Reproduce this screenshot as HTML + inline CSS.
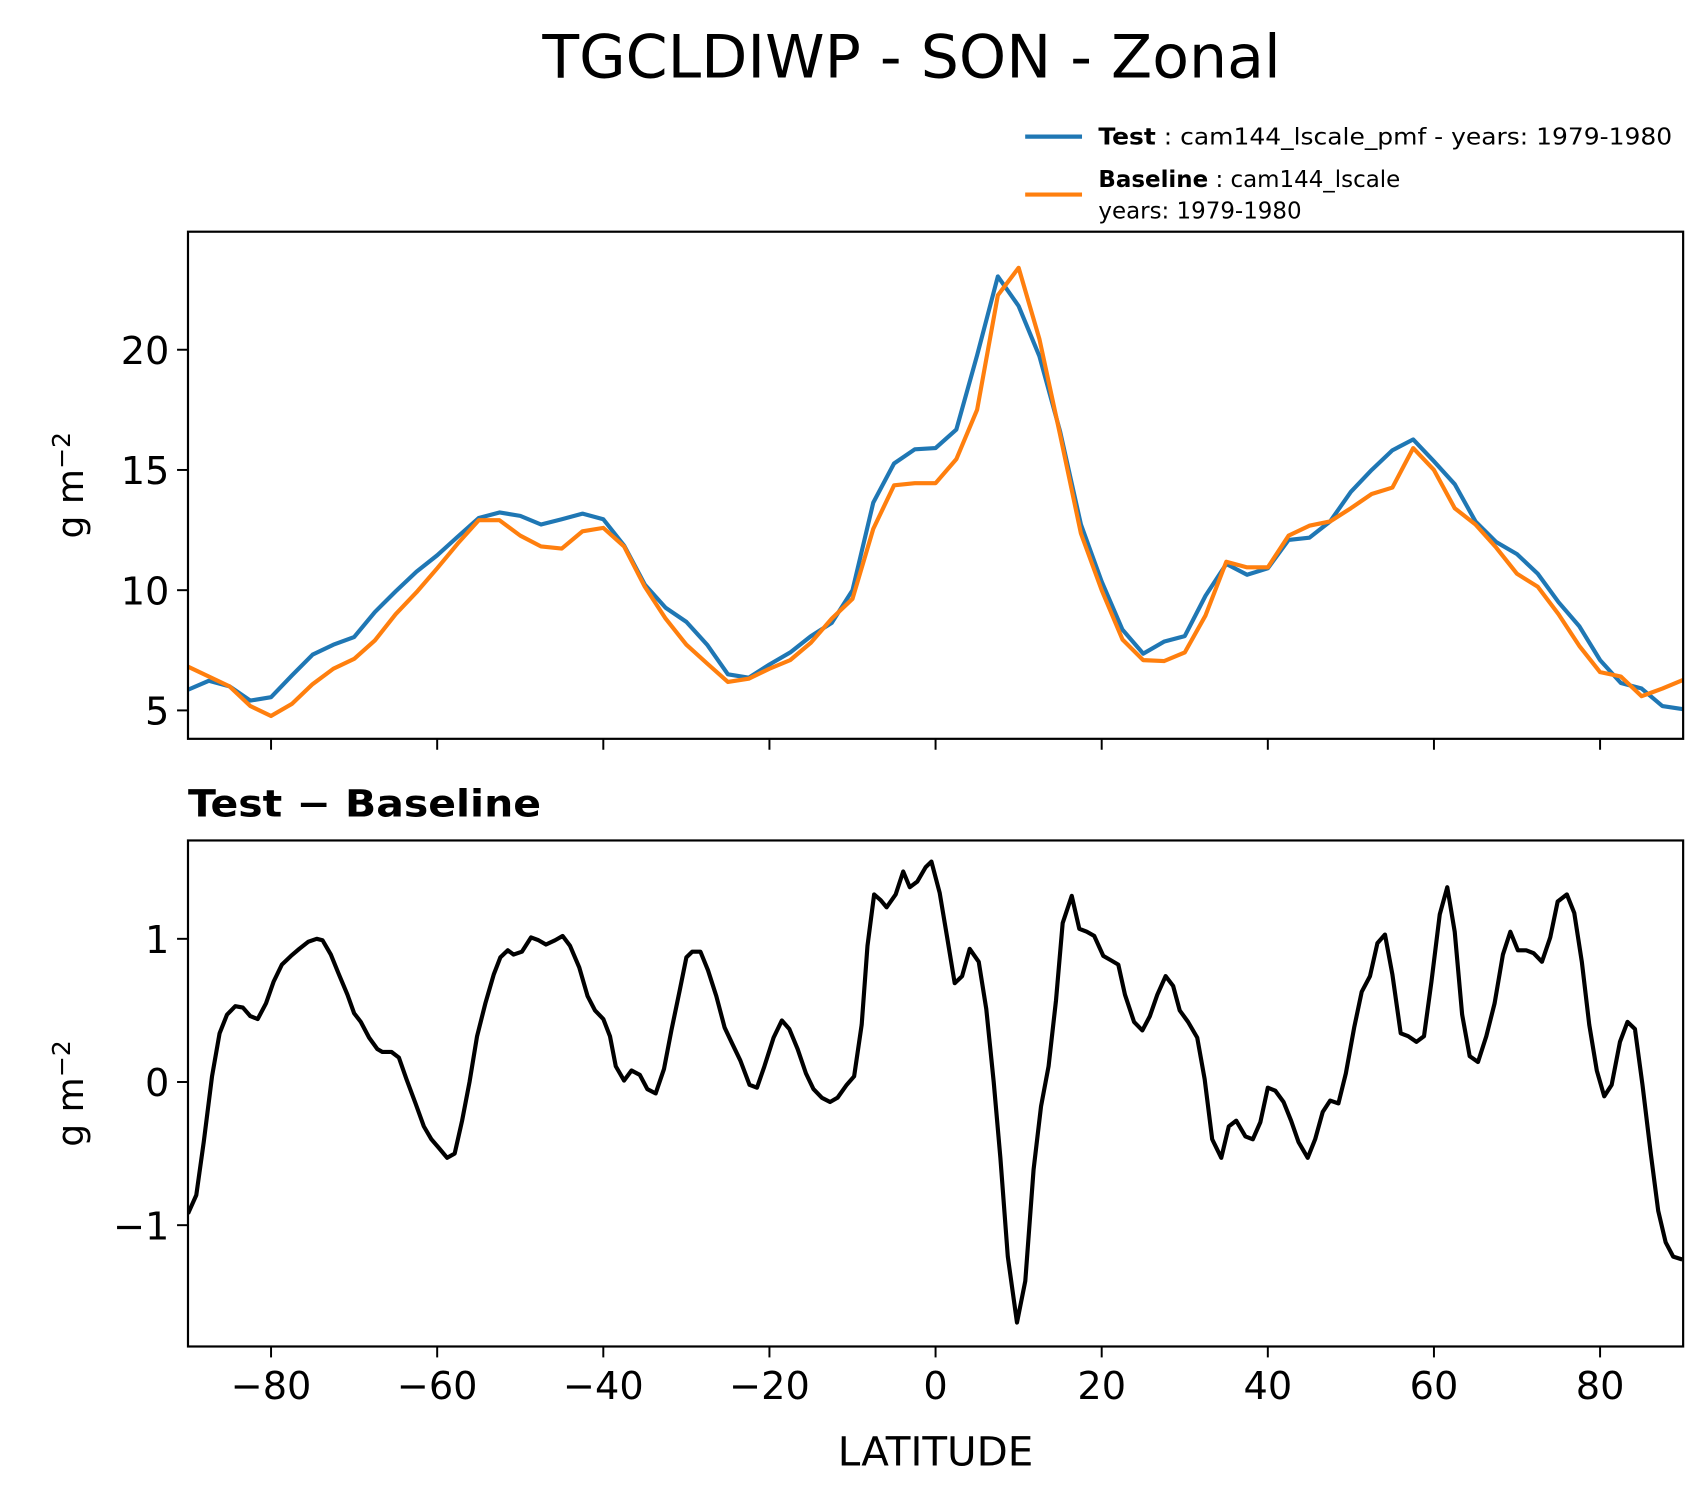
<!DOCTYPE html>
<html><head><meta charset="utf-8">
<style>
html,body{margin:0;padding:0;background:#fff;}
svg{display:block;font-family:"DejaVu Sans","Liberation Sans",sans-serif;}
</style></head>
<body>
<svg id="chart" width="1705" height="1496" viewBox="0 0 1560 1368.8" preserveAspectRatio="none" xmlns="http://www.w3.org/2000/svg">
<rect x="0" y="0" width="1560" height="1369" fill="#fff"/>
<text x="834" y="71" font-size="55" text-anchor="middle">TGCLDIWP - SON - Zonal</text>
<g>
  <line x1="938" y1="125" x2="990" y2="125" stroke="#1f77b4" stroke-width="3.8"/>
  <text x="1005" y="132" font-size="21" textLength="525" lengthAdjust="spacingAndGlyphs"><tspan font-weight="bold">Test</tspan> : cam144_lscale_pmf - years: 1979-1980</text>
  <line x1="938" y1="178" x2="990" y2="178" stroke="#ff7f0e" stroke-width="3.8"/>
  <text x="1005" y="171" font-size="21"><tspan font-weight="bold">Baseline</tspan> : cam144_lscale</text>
  <text x="1005" y="200" font-size="21">years: 1979-1980</text>
</g>
<g id="topPanel"></g>
<g id="botPanel"></g>
<text x="172" y="747" font-size="34" font-weight="bold" textLength="323" lengthAdjust="spacingAndGlyphs">Test − Baseline</text>
<text x="856" y="1341" font-size="37" text-anchor="middle">LATITUDE</text>
</svg>
<script>
const lats = [-90,-87.5,-85,-82.5,-80,-77.5,-75,-72.5,-70,-67.5,-65,-62.5,-60,-57.5,-55,-52.5,-50,-47.5,-45,-42.5,-40,-37.5,-35,-32.5,-30,-27.5,-25,-22.5,-20,-17.5,-15,-12.5,-10,-7.5,-5,-2.5,0,2.5,5,7.5,10,12.5,15,17.5,20,22.5,25,27.5,30,32.5,35,37.5,40,42.5,45,47.5,50,52.5,55,57.5,60,62.5,65,67.5,70,72.5,75,77.5,80,82.5,85,87.5,90];
const testVals = [5.86,6.23,6.0,5.41,5.55,6.45,7.32,7.73,8.05,9.09,9.95,10.77,11.45,12.23,13.0,13.23,13.09,12.73,12.95,13.18,12.95,11.86,10.23,9.27,8.68,7.73,6.5,6.36,6.91,7.41,8.09,8.64,10.0,13.64,15.27,15.86,15.91,16.68,19.77,23.05,21.82,19.73,16.59,12.73,10.36,8.36,7.36,7.86,8.09,9.77,11.09,10.64,10.91,12.09,12.18,12.86,14.09,15.0,15.82,16.27,15.36,14.41,12.86,12.0,11.5,10.68,9.5,8.5,7.09,6.14,5.91,5.18,5.05];
const baseVals = [6.82,6.41,6.0,5.18,4.77,5.27,6.09,6.73,7.14,7.91,9.0,9.91,10.91,11.95,12.91,12.91,12.27,11.82,11.73,12.45,12.59,11.82,10.14,8.82,7.73,6.95,6.18,6.32,6.73,7.09,7.82,8.82,9.64,12.55,14.36,14.45,14.45,15.45,17.5,22.27,23.41,20.45,16.45,12.36,10.0,7.95,7.09,7.05,7.41,8.95,11.18,10.95,10.95,12.27,12.68,12.86,13.41,14.0,14.27,15.91,15.0,13.41,12.73,11.77,10.68,10.14,9.0,7.68,6.59,6.41,5.59,5.91,6.27];
const diffLats = [-90,-89,-88.1,-87.1,-86.2,-85.3,-84.3,-83.4,-82.5,-81.6,-80.6,-79.7,-78.7,-77.6,-76.6,-75.5,-74.5,-73.8,-72.8,-71.9,-70.8,-70,-69.2,-68.2,-67.2,-66.6,-65.5,-64.6,-63.7,-62.6,-61.6,-60.7,-59.8,-58.8,-57.9,-57,-56.1,-55.2,-54.2,-53.2,-52.4,-51.5,-50.8,-49.8,-48.7,-47.8,-46.9,-45.8,-44.9,-44,-42.9,-41.9,-41,-40,-39.2,-38.5,-37.5,-36.6,-35.6,-34.7,-33.7,-32.7,-31.8,-30.8,-30,-29.3,-28.3,-27.4,-26.4,-25.4,-24.5,-23.5,-22.4,-21.5,-20.6,-19.5,-18.5,-17.6,-16.6,-15.6,-14.7,-13.7,-12.7,-11.8,-10.7,-9.8,-8.9,-8.2,-7.4,-6.6,-5.9,-4.8,-3.9,-3.1,-2.2,-1.2,-0.5,0.5,1.4,2.3,3.2,4.1,5.2,6.1,7,7.8,8.7,9.8,10.8,11.8,12.7,13.6,14.5,15.3,16.4,17.3,18.2,19.1,20.2,21.1,22,22.8,23.9,24.9,25.8,26.7,27.7,28.6,29.4,30.4,31.5,32.4,33.3,34.4,35.3,36.2,37.3,38.2,39.1,40,40.9,41.9,42.8,43.7,44.8,45.7,46.6,47.5,48.5,49.4,50.4,51.3,52.3,53.2,54.1,55,56,56.9,57.9,58.8,59.7,60.7,61.6,62.5,63.4,64.3,65.3,66.3,67.3,68.3,69.2,70.1,71.1,72,73,74,74.9,76,76.9,77.8,78.7,79.6,80.5,81.4,82.4,83.3,84.2,85.1,86.1,87,87.9,88.8,89.9];
const diffVals = [-0.92,-0.79,-0.42,0.04,0.34,0.47,0.53,0.52,0.46,0.44,0.55,0.70,0.82,0.88,0.93,0.98,1.0,0.99,0.89,0.76,0.61,0.48,0.42,0.31,0.23,0.21,0.21,0.17,0.02,-0.15,-0.31,-0.40,-0.46,-0.53,-0.50,-0.27,0.0,0.32,0.55,0.75,0.87,0.92,0.89,0.91,1.01,0.99,0.96,0.99,1.02,0.95,0.80,0.60,0.50,0.44,0.32,0.11,0.01,0.08,0.05,-0.05,-0.08,0.09,0.36,0.64,0.87,0.91,0.91,0.78,0.60,0.38,0.27,0.15,-0.02,-0.04,0.11,0.31,0.43,0.37,0.23,0.06,-0.05,-0.11,-0.14,-0.11,-0.02,0.04,0.40,0.95,1.31,1.27,1.22,1.31,1.47,1.36,1.40,1.50,1.54,1.32,1.01,0.69,0.74,0.93,0.84,0.51,0.0,-0.53,-1.22,-1.68,-1.39,-0.61,-0.17,0.11,0.57,1.11,1.30,1.07,1.05,1.02,0.88,0.85,0.82,0.61,0.42,0.36,0.46,0.61,0.74,0.67,0.50,0.42,0.31,0.02,-0.40,-0.53,-0.31,-0.27,-0.38,-0.40,-0.28,-0.04,-0.06,-0.14,-0.27,-0.42,-0.53,-0.40,-0.21,-0.13,-0.15,0.06,0.38,0.63,0.74,0.97,1.03,0.75,0.34,0.32,0.28,0.32,0.70,1.17,1.36,1.05,0.47,0.18,0.14,0.32,0.55,0.89,1.05,0.92,0.92,0.90,0.84,1.01,1.26,1.31,1.18,0.84,0.40,0.08,-0.10,-0.02,0.28,0.42,0.37,-0.02,-0.50,-0.90,-1.12,-1.22,-1.24];
const xTicks = [-80,-60,-40,-20,0,20,40,60,80];
const xTickLabels = ['−80','−60','−40','−20','0','20','40','60','80'];
const topTicks = [5,10,15,20];
const topTickLabels = ['5','10','15','20'];
const botTicks = [-1,0,1];
const botTickLabels = ['−1','0','1'];

const NS='http://www.w3.org/2000/svg';
const X0=172,X1=1540;
function xs(l){return X0+(l+90)/180*(X1-X0);}
const TB={top:212,bot:676};
function yTop(v){return 650-(v-5)*22;}
const BB={top:769,bot:1232};
function yBot(v){return 990-v*131;}
function mk(parent,tag,attrs){const e=document.createElementNS(NS,tag);for(const k in attrs)e.setAttribute(k,attrs[k]);parent.appendChild(e);return e;}

function axes(g,box,yfun,ticks,labels,showXLabels,prefix){
  ticks.forEach((t,i)=>{
    const y=yfun(t);
    const tk=mk(g,'line',{x1:X0-10,x2:X0,y1:y,y2:y,stroke:'#000','stroke-width':1.8});
    
    
    const tx=mk(g,'text',{x:X0-17,y:y+13,'font-size':35,'text-anchor':'end'});
    tx.textContent=labels[i];
    
    
  });
  xTicks.forEach((t,i)=>{
    const x=xs(t);
    const tk=mk(g,'line',{x1:x,x2:x,y1:box.bot,y2:box.bot+10,stroke:'#000','stroke-width':1.8});
    
    
    if(showXLabels){
      const tx=mk(g,'text',{x:x,y:box.bot+48,'font-size':35,'text-anchor':'middle'});
      tx.textContent=xTickLabels[i];
      
      
    }
  });
  const yl=mk(g,'text',{transform:`translate(76 ${(box.top+box.bot)/2}) rotate(-90)`,'font-size':33,'text-anchor':'middle'});
  yl.innerHTML='g m<tspan dy="-12" font-size="23">−2</tspan>';
  
  
}
function line(g,xv,yv,yfun,color,name){
  const d=xv.map((l,i)=>(i?'L':'M')+xs(l).toFixed(1)+' '+yfun(yv[i]).toFixed(1)).join(' ');
  const p=mk(g,'path',{d:d,fill:'none',stroke:color,'stroke-width':3.8,'stroke-linejoin':'round'});
  
  
}
function frame(g,box,prefix){
  const r=mk(g,'rect',{x:X0,y:box.top,width:X1-X0,height:box.bot-box.top,fill:'none',stroke:'#000','stroke-width':2});
  
  
}
const topG=document.getElementById('topPanel'), botG=document.getElementById('botPanel');
const svgEl=document.getElementById('chart');
const clipT=mk(svgEl,'clipPath',{id:'ct'});mk(clipT,'rect',{x:X0,y:TB.top,width:X1-X0,height:TB.bot-TB.top});
const clipB=mk(svgEl,'clipPath',{id:'cb'});mk(clipB,'rect',{x:X0,y:BB.top,width:X1-X0,height:BB.bot-BB.top});
axes(topG,TB,yTop,topTicks,topTickLabels,false,'top');
const gt=mk(topG,'g',{'clip-path':'url(#ct)'});
line(gt,lats,testVals,yTop,'#1f77b4','test-line');
line(gt,lats,baseVals,yTop,'#ff7f0e','baseline-line');
frame(topG,TB,'top');
axes(botG,BB,yBot,botTicks,botTickLabels,true,'diff');
const gb=mk(botG,'g',{'clip-path':'url(#cb)'});
line(gb,diffLats,diffVals,yBot,'#000','difference-line');
frame(botG,BB,'diff');
</script>
</body></html>
